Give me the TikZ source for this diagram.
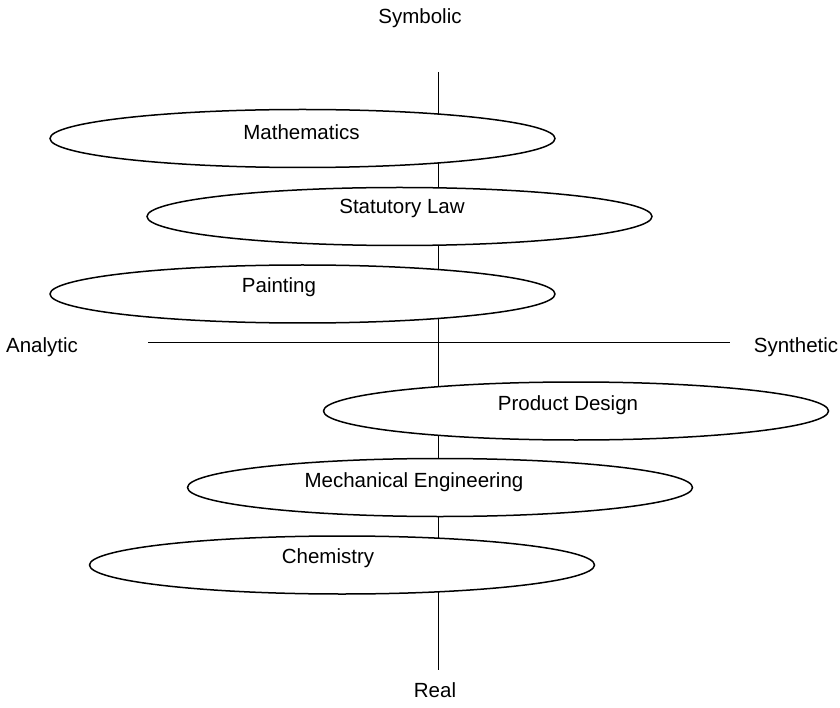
\documentclass[tikz,border=0pt]{standalone}
\usepackage{fontspec}
\setmainfont{Liberation Sans}
\usetikzlibrary{shapes.geometric}
\begin{document}
\begin{tikzpicture}[x=1pt,y=-1pt,
  oval/.style={ellipse,draw,fill=white,line width=1.5pt,
    minimum width=505pt,minimum height=58pt,inner sep=0pt},
  lab/.style={font=\fontsize{20.5pt}{24pt}\selectfont,inner sep=0pt},
  axis/.style={line width=1.3pt}]
\useasboundingbox (0,0) rectangle (840,708);

% axis end points
\coordinate (top) at (438.5,72);
\coordinate (bottom) at (438.5,670);
\coordinate (left) at (148,342.5);
\coordinate (right) at (730,342.5);
\draw[axis] (top) -- (bottom);
\draw[axis] (left) -- (right);

% axis captions
\node[lab] (symbolic) at (420,18) {Symbolic};
\node[lab] (real) at (435,690) {Real};
\node[lab] (analytic) at (42,347) {Analytic};
\node[lab] (synthetic) at (796,347) {Synthetic};

% disciplines
\node[oval] (math) at (302.5,138.5) {};
\node[lab] (mathT) at (301.5,132) {Mathematics};
\node[oval] (law) at (399.5,216.5) {};
\node[lab] (lawT) at (402,208) {Statutory Law};
\node[oval] (paint) at (302.5,294) {};
\node[lab] (paintT) at (279,287) {Painting};
\node[oval] (design) at (576,411) {};
\node[lab] (designT) at (568,405) {Product Design};
\node[oval] (mech) at (440,487.5) {};
\node[lab] (mechT) at (414,482) {Mechanical Engineering};
\node[oval] (chem) at (342,565) {};
\node[lab] (chemT) at (328,558) {Chemistry};
\end{tikzpicture}
\end{document}
